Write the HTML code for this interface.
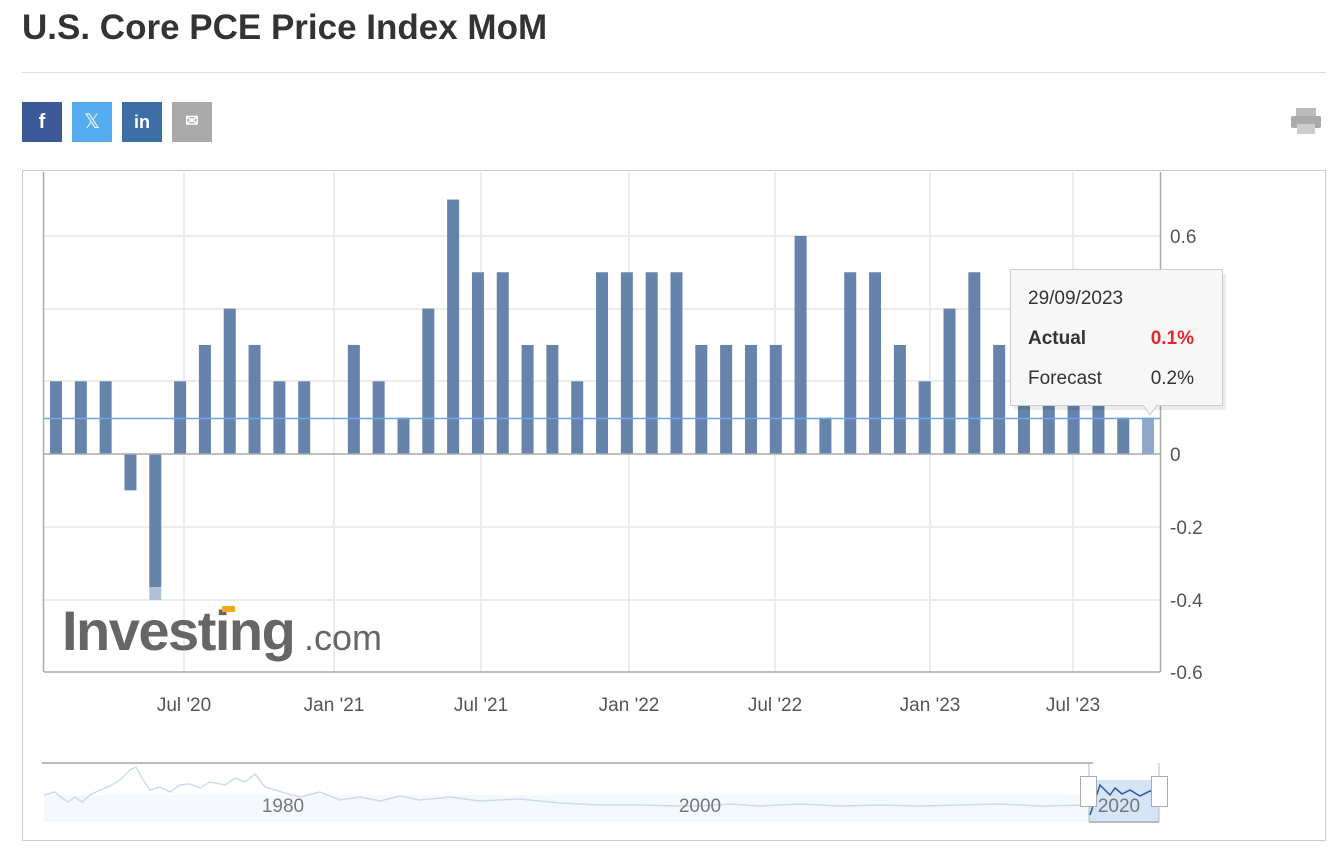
<!DOCTYPE html><html><head><style>
body{margin:0;width:1336px;height:854px;background:#fff;font-family:"Liberation Sans",Arial,sans-serif;overflow:hidden;position:relative}
h1{position:absolute;left:22px;top:8px;margin:0;font-size:35px;font-weight:bold;color:#333}
.hr{position:absolute;left:22px;top:72px;width:1304px;height:1px;background:#ddd}
.b{position:absolute;top:102px;width:40px;height:40px;color:#fff;font-weight:bold;font-size:20px;text-align:center;line-height:40px}
</style></head><body>
<h1>U.S. Core PCE Price Index MoM</h1>
<div class="hr"></div>
<div class="b" style="left:22px;background:#3b5998">f</div>
<div class="b" style="left:72px;background:#55acee;font-weight:normal">𝕏</div>
<div class="b" style="left:122px;background:#3d6fa6;font-size:18px">in</div>
<div class="b" style="left:172px;background:#aaa;font-size:16px">✉</div>
<svg style="position:absolute;left:1290px;top:108px" width="32" height="28"><rect x="6" y="0" width="20" height="8" fill="#bbb"/><rect x="1" y="8" width="30" height="12" rx="2" fill="#aaa"/><rect x="7" y="16" width="18" height="10" fill="#ccc"/></svg>
<svg style="position:absolute;left:0;top:0" width="1336" height="854" font-family="Liberation Sans,Arial,sans-serif">
<rect x="22.5" y="170.5" width="1303" height="670" fill="none" stroke="#ccc"/>
<g stroke="#ececec" stroke-width="2">
<line x1="44" x2="1160" y1="236" y2="236"/><line x1="44" x2="1160" y1="309" y2="309"/><line x1="44" x2="1160" y1="381" y2="381"/><line x1="44" x2="1160" y1="527" y2="527"/><line x1="44" x2="1160" y1="600" y2="600"/>
<line x1="184" x2="184" y1="172" y2="672"/><line x1="334" x2="334" y1="172" y2="672"/><line x1="481" x2="481" y1="172" y2="672"/><line x1="629" x2="629" y1="172" y2="672"/><line x1="775" x2="775" y1="172" y2="672"/><line x1="930" x2="930" y1="172" y2="672"/><line x1="1073" x2="1073" y1="172" y2="672"/>
</g>
<g id="bars" fill="#6583ab"></g>
<line x1="44" x2="1160" y1="418.5" y2="418.5" stroke="#6ea6e6" stroke-width="1.5"/>
<line x1="44" x2="1160" y1="454" y2="454" stroke="#aaa" stroke-width="1.5"/>
<line x1="43.5" x2="43.5" y1="172" y2="672" stroke="#aaa" stroke-width="1.5"/>
<line x1="1160.5" x2="1160.5" y1="172" y2="672" stroke="#aaa" stroke-width="1.5"/>
<line x1="44" x2="1160" y1="672" y2="672" stroke="#aaa" stroke-width="1.5"/>
<g font-size="19" fill="#555">
<text x="1170" y="243">0.6</text><text x="1170" y="461">0</text><text x="1170" y="534">-0.2</text><text x="1170" y="607">-0.4</text><text x="1170" y="679">-0.6</text>
</g>
<g font-size="19" fill="#555" text-anchor="middle">
<text x="184" y="711">Jul '20</text><text x="334" y="711">Jan '21</text><text x="481" y="711">Jul '21</text><text x="629" y="711">Jan '22</text><text x="775" y="711">Jul '22</text><text x="930" y="711">Jan '23</text><text x="1073" y="711">Jul '23</text>
</g>
<text x="62" y="650" font-size="56" font-weight="bold" fill="#666" letter-spacing="-1.5">Investing</text>
<text x="304" y="650" font-size="36" fill="#666">.com</text>
<rect x="222" y="606" width="13" height="6" fill="#f7a721"/>
<g>
<rect x="1012" y="272" width="212" height="136" fill="#000" opacity="0.08" transform="translate(2,2)"/>
<rect x="1010.5" y="269.5" width="212" height="136" fill="#f7f7f7" stroke="#ccc"/>
<path d="M1143 405 L1150 415 L1157 405" fill="#f7f7f7" stroke="#ccc"/>
<text x="1028" y="304" font-size="19" fill="#333">29/09/2023</text>
<text x="1028" y="344" font-size="19" font-weight="bold" fill="#333">Actual</text>
<text x="1194" y="344" font-size="19" font-weight="bold" fill="#e8262b" text-anchor="end">0.1%</text>
<text x="1028" y="384" font-size="19" fill="#333">Forecast</text>
<text x="1194" y="384" font-size="19" fill="#333" text-anchor="end">0.2%</text>
</g>
<line x1="42" x2="1093" y1="763" y2="763" stroke="#bbb" stroke-width="2"/>
<rect x="44" y="795" width="1114" height="27" fill="#f5f9fe"/>
<rect x="1089" y="780" width="70" height="42" fill="#d6e4f7"/>
<path d="M44 795 L55 792 L62 798 L68 802 L75 797 L82 802 L90 795 L100 790 L110 786 L120 780 L130 770 L136 767 L142 778 L150 790 L160 787 L170 792 L180 785 L190 784 L200 788 L210 782 L225 785 L235 778 L245 782 L255 774 L265 787 L275 790 L285 793 L300 797 L320 792 L340 800 L360 797 L380 801 L400 796 L420 800 L450 797 L480 801 L520 799 L560 803 L600 805 L640 805 L680 806 L700 806 L730 804 L760 806 L800 804 L840 806 L880 805 L920 806 L960 805 L1000 804 L1040 806 L1088 805" fill="none" stroke="#cfdbeb" stroke-width="1.5"/>
<path d="M1090 815 L1095 800 L1100 785 L1105 790 L1110 795 L1115 788 L1122 794 L1130 790 L1140 796 L1150 791 L1158 794" fill="none" stroke="#2c5aa0" stroke-width="1.5"/>
<line x1="1089" x2="1159" y1="822" y2="822" stroke="#bbb" stroke-width="2"/>
<line x1="1089" x2="1089" y1="763" y2="822" stroke="#bbb"/>
<line x1="1159" x2="1159" y1="763" y2="822" stroke="#bbb"/>
<rect x="1080.5" y="776.5" width="16" height="30" fill="#fff" stroke="#aaa"/>
<rect x="1151.5" y="776.5" width="16" height="30" fill="#fff" stroke="#aaa"/>
<g font-size="19" fill="#777" text-anchor="middle"><text x="283" y="812">1980</text><text x="700" y="812">2000</text><text x="1119" y="812">2020</text></g>
</svg>
<script>
var v=[.2,.2,.2,-.1,-.4,.2,.3,.4,.3,.2,.2,0,.3,.2,.1,.4,.7,.5,.5,.3,.3,.2,.5,.5,.5,.5,.3,.3,.3,.3,.6,.1,.5,.5,.3,.2,.4,.5,.3,.3,.3,.2,.2,.1,.1];
var g=document.getElementById('bars'),s='';
for(var i=0;i<v.length;i++){var x=56+i*24.82-6,y0=454,y=454-v[i]*363.5;
var fill=i==44?' fill="#8ea8c9"':'';
if(v[i]>=0)s+='<rect x="'+x+'" y="'+y+'" width="12" height="'+(y0-y)+'"'+fill+'/>';
else if(i==4)s+='<rect x="'+x+'" y="454" width="12" height="133"/><rect x="'+x+'" y="587" width="12" height="13" fill="#b0c0d6"/>';
else s+='<rect x="'+x+'" y="454" width="12" height="'+(y-y0)+'"/>';}
g.innerHTML=s;
</script>
</body></html>
